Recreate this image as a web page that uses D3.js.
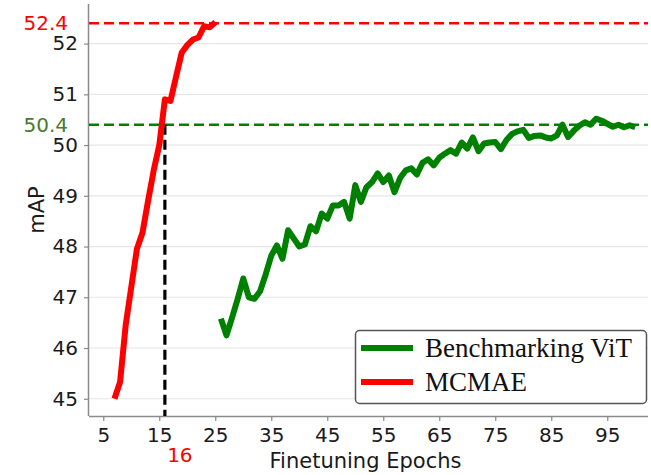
<!DOCTYPE html>
<html>
<head>
<meta charset="utf-8">
<script src="https://cdn.jsdelivr.net/npm/d3@7"></script>
<style>
  html, body { margin: 0; padding: 0; background: #fff; }
  svg text { font-family: "DejaVu Sans", sans-serif; }
  svg text.legend-label { font-family: "Liberation Serif", "DejaVu Serif", serif; }
</style>
</head>
<body>
<svg id="chart" width="651" height="475"></svg>
<script>
// MCMAE finetuning curve (epochs 7..25)
const mcmaeEpochs = [7, 8, 9, 10, 11, 12, 13, 14, 15, 16, 17, 18, 19, 20, 21, 22, 23, 24, 25];
const mcmaeMap = [45.0, 45.33, 46.45, 47.2, 47.95, 48.27, 48.9, 49.5, 50.0, 50.9, 50.87,
  51.35, 51.82, 51.97, 52.08, 52.12, 52.34, 52.32, 52.42];

// Benchmarking ViT curve (epochs 26..100)
const vitEpochs = d3.range(26, 101);
const vitMap = [
  46.58, 46.25, 46.6, 46.97, 47.37, 47.0, 46.97, 47.12, 47.45, 47.82,
  48.02, 47.76, 48.32, 48.16, 48.0, 48.04, 48.40, 48.30, 48.65, 48.55,
  48.81, 48.81, 48.88, 48.55, 49.21, 48.88, 49.17, 49.27, 49.44, 49.27,
  49.40, 49.07, 49.35, 49.5, 49.54, 49.42, 49.65, 49.72, 49.60, 49.75,
  49.83, 49.90, 49.83, 50.05, 49.93, 50.15, 49.88, 50.03, 50.05, 50.06,
  49.92, 50.10, 50.22, 50.27, 50.30, 50.14, 50.18, 50.19, 50.15, 50.13,
  50.19, 50.40, 50.16, 50.28, 50.38, 50.45, 50.40, 50.52, 50.48, 50.42,
  50.36, 50.40, 50.35, 50.39, 50.35
];

const xTicks = [5, 15, 25, 35, 45, 55, 65, 75, 85, 95];
const yTicks = [45, 46, 47, 48, 49, 50, 51, 52];
const mcmaeBest = 52.4;
const vitBest = 50.4;
const crossEpoch = 16;
const legendLabels = ['Benchmarking ViT', 'MCMAE'];

const svg = d3.select('#chart');
const M = { left: 89, right: 648, top: 4, bottom: 416 };

const x = d3.scaleLinear().domain([2.45, 102.27]).range([M.left, M.right]);
const y = d3.scaleLinear().domain([44.66, 52.78]).range([M.bottom, M.top]);

// horizontal grid
svg.append('g')
  .selectAll('line')
  .data(yTicks)
  .join('line')
  .attr('x1', M.left).attr('x2', M.right)
  .attr('y1', d => y(d)).attr('y2', d => y(d))
  .attr('stroke', '#e6e6e6')
  .attr('stroke-width', 1.2);

// axes
const axisColor = '#8a8a8a';
svg.append('g')
  .attr('transform', `translate(0,${M.bottom})`)
  .call(d3.axisBottom(x).tickValues(xTicks).tickSize(5).tickPadding(7).tickSizeOuter(0))
  .call(g => g.select('.domain').attr('stroke', axisColor).attr('stroke-width', 1.5).attr('d', `M${M.left},0.5H${M.right}`))
  .call(g => g.selectAll('.tick line').attr('stroke', axisColor).attr('stroke-width', 1.2))
  .call(g => g.selectAll('.tick text').attr('fill', '#1a1a1a').attr('font-size', 20));

svg.append('g')
  .attr('transform', `translate(${M.left},0)`)
  .call(d3.axisLeft(y).tickValues(yTicks).tickSize(5).tickPadding(6).tickSizeOuter(0))
  .call(g => g.select('.domain').attr('stroke', axisColor).attr('stroke-width', 1.5).attr('d', `M-0.5,${M.top}V${M.bottom}`))
  .call(g => g.selectAll('.tick line').attr('stroke', axisColor).attr('stroke-width', 1.2))
  .call(g => g.selectAll('.tick text').attr('fill', '#1a1a1a').attr('font-size', 20));

// reference lines
svg.append('line')
  .attr('x1', M.left).attr('x2', M.right)
  .attr('y1', y(mcmaeBest)).attr('y2', y(mcmaeBest))
  .attr('stroke', '#ff0000').attr('stroke-width', 2.6)
  .attr('stroke-dasharray', '10 5');

svg.append('line')
  .attr('x1', M.left).attr('x2', M.right)
  .attr('y1', y(vitBest)).attr('y2', y(vitBest))
  .attr('stroke', '#008000').attr('stroke-width', 2.6)
  .attr('stroke-dasharray', '10 5');

svg.append('line')
  .attr('x1', x(crossEpoch)).attr('x2', x(crossEpoch))
  .attr('y1', y(vitBest)).attr('y2', M.bottom)
  .attr('stroke', '#000').attr('stroke-width', 3.2)
  .attr('stroke-dasharray', '10 5');

// curves
const line = d3.line().x(d => x(d[0])).y(d => y(d[1]));

svg.append('path')
  .datum(vitEpochs.map((e, i) => [e, vitMap[i]]))
  .attr('d', line)
  .attr('fill', 'none')
  .attr('stroke', '#008000')
  .attr('stroke-width', 6)
  .attr('stroke-linejoin', 'round');

svg.append('path')
  .datum(mcmaeEpochs.map((e, i) => [e, mcmaeMap[i]]))
  .attr('d', line)
  .attr('fill', 'none')
  .attr('stroke', '#ff0000')
  .attr('stroke-width', 6)
  .attr('stroke-linejoin', 'round');

// annotations
svg.append('text')
  .attr('x', 68).attr('y', y(mcmaeBest))
  .attr('dy', '0.36em')
  .attr('text-anchor', 'end')
  .attr('font-size', 20)
  .attr('fill', '#ff0000')
  .text(mcmaeBest.toFixed(1));

svg.append('text')
  .attr('x', 68).attr('y', y(vitBest))
  .attr('dy', '0.36em')
  .attr('text-anchor', 'end')
  .attr('font-size', 20)
  .attr('fill', '#4a7a2a')
  .text(vitBest.toFixed(1));

svg.append('text')
  .attr('x', x(crossEpoch) + 15).attr('y', 462)
  .attr('text-anchor', 'middle')
  .attr('font-size', 20)
  .attr('fill', '#ff0000')
  .text(String(crossEpoch));

// axis titles
svg.append('text')
  .attr('x', (M.left + M.right) / 2 - 3).attr('y', 468)
  .attr('text-anchor', 'middle')
  .attr('font-size', 21)
  .attr('fill', '#1a1a1a')
  .text('Finetuning Epochs');

svg.append('text')
  .attr('transform', `translate(44,${(M.top + M.bottom) / 2}) rotate(-90)`)
  .attr('text-anchor', 'middle')
  .attr('font-size', 21)
  .attr('fill', '#1a1a1a')
  .text('mAP');

// legend
const legend = svg.append('g').attr('transform', 'translate(355,330)');
legend.append('rect')
  .attr('x', 0.5).attr('y', 0.5)
  .attr('width', 291).attr('height', 73)
  .attr('rx', 4)
  .attr('fill', '#fff')
  .attr('stroke', '#555')
  .attr('stroke-width', 1.5);

[['#008000', legendLabels[0]], ['#ff0000', legendLabels[1]]].forEach(([c, label], i) => {
  const row = legend.append('g').attr('transform', `translate(0,${18 + i * 34})`);
  row.append('line')
    .attr('x1', 6).attr('x2', 58)
    .attr('stroke', c).attr('stroke-width', 6);
  row.append('text')
    .attr('class', 'legend-label')
    .attr('x', 70).attr('dy', '0.33em')
    .attr('font-size', 27)
    .attr('fill', '#111')
    .text(label);
});
</script>
</body>
</html>
